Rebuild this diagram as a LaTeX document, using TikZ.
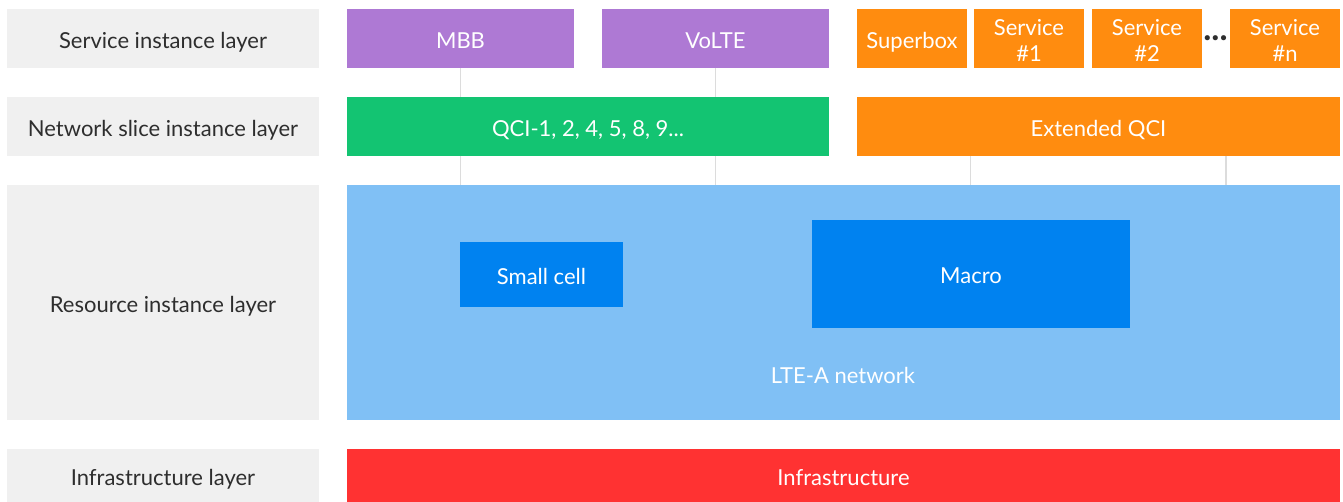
\documentclass[tikz,border=0pt]{standalone}
\usepackage{fontspec}
\setmainfont{Lato}
\definecolor{laygray}{HTML}{F0F0F0}
\definecolor{laytext}{HTML}{2E2E2E}
\definecolor{svpurple}{HTML}{AE79D4}
\definecolor{slgreen}{HTML}{13C472}
\definecolor{svorange}{HTML}{FF8C0F}
\definecolor{ltblue}{HTML}{80C0F5}
\definecolor{cellblue}{HTML}{0082F0}
\definecolor{infred}{HTML}{FF3232}
\definecolor{linkgray}{HTML}{DCDCDC}
\begin{document}
\begin{tikzpicture}[x=1pt,y=-1pt,
  base/.style={draw=none, inner sep=0pt, outer sep=0pt, anchor=north west, align=center,
    font=\fontsize{22}{26}\selectfont, text height=21pt, text depth=1.2pt},
  layerbox/.style={base, fill=laygray, text=laytext},
  colbox/.style={base, fill=#1, text=white},
  twoline/.style={text height=47pt, text depth=1.2pt},
  txt/.style={inner sep=0pt, text=white, font=\fontsize{22}{26}\selectfont},
  link/.style={draw=linkgray, line width=1.5pt}]
\useasboundingbox (0,0) rectangle (1343,502);
% layer labels
\node[layerbox, minimum width=312pt, minimum height=59pt] (lsvc) at (7,9) {Service instance layer};
\node[layerbox, minimum width=312pt, minimum height=59pt] (lnsl) at (7,97) {Network slice instance layer};
\node[layerbox, minimum width=312pt, minimum height=235pt] (lres) at (7,185) {Resource instance layer};
\node[layerbox, minimum width=312pt, minimum height=53pt] (linf) at (7,449) {Infrastructure layer};
% service instances
\node[colbox=svpurple, minimum width=227pt, minimum height=59pt] (mbb) at (347,9) {MBB};
\node[colbox=svpurple, minimum width=227pt, minimum height=59pt] (volte) at (602,9) {VoLTE};
\node[colbox=svorange, minimum width=110pt, minimum height=59pt] (sbox) at (857,9) {Superbox};
\node[colbox=svorange, twoline, minimum width=110pt, minimum height=59pt] (s1) at (974,9) {Service\\\#1};
\node[colbox=svorange, twoline, minimum width=110pt, minimum height=59pt] (s2) at (1092,9) {Service\\\#2};
\node[colbox=svorange, twoline, minimum width=110pt, minimum height=59pt] (sn) at (1230,9) {Service\\\#n};
\node[inner sep=0pt, text=laytext, font=\fontsize{34}{34}\selectfont\bfseries] (dots) at (1215.5,38) {...};
% network slices
\node[colbox=slgreen, minimum width=482pt, minimum height=59pt] (qci) at (347,97) {QCI-1, 2, 4, 5, 8, 9...};
\node[colbox=svorange, minimum width=483pt, minimum height=59pt] (eqci) at (857,97) {Extended QCI};
% resources
\node[colbox=ltblue, minimum width=993pt, minimum height=235pt] (lte) at (347,185) {};
\node[txt, text height=21pt, text depth=1.2pt] (ltetext) at (843,374) {LTE-A network};
\node[colbox=cellblue, minimum width=163pt, minimum height=65pt] (small) at (460,242) {Small cell};
\node[colbox=cellblue, minimum width=318pt, minimum height=108pt] (macro) at (812,220) {Macro};
% infrastructure
\node[colbox=infred, minimum width=993pt, minimum height=53pt] (infra) at (347,449) {Infrastructure};
% links
\coordinate (e1) at (970.5,0);
\coordinate (e2) at (1226,0);
\draw[link] (mbb.south) -- (mbb.south |- qci.north);
\draw[link] (volte.south) -- (volte.south |- qci.north);
\draw[link] (mbb.south |- qci.south) -- (mbb.south |- lte.north);
\draw[link] (volte.south |- qci.south) -- (volte.south |- lte.north);
\draw[link] (e1 |- eqci.south) -- (e1 |- lte.north);
\draw[link] (e2 |- eqci.south) -- (e2 |- lte.north);
\end{tikzpicture}
\end{document}
